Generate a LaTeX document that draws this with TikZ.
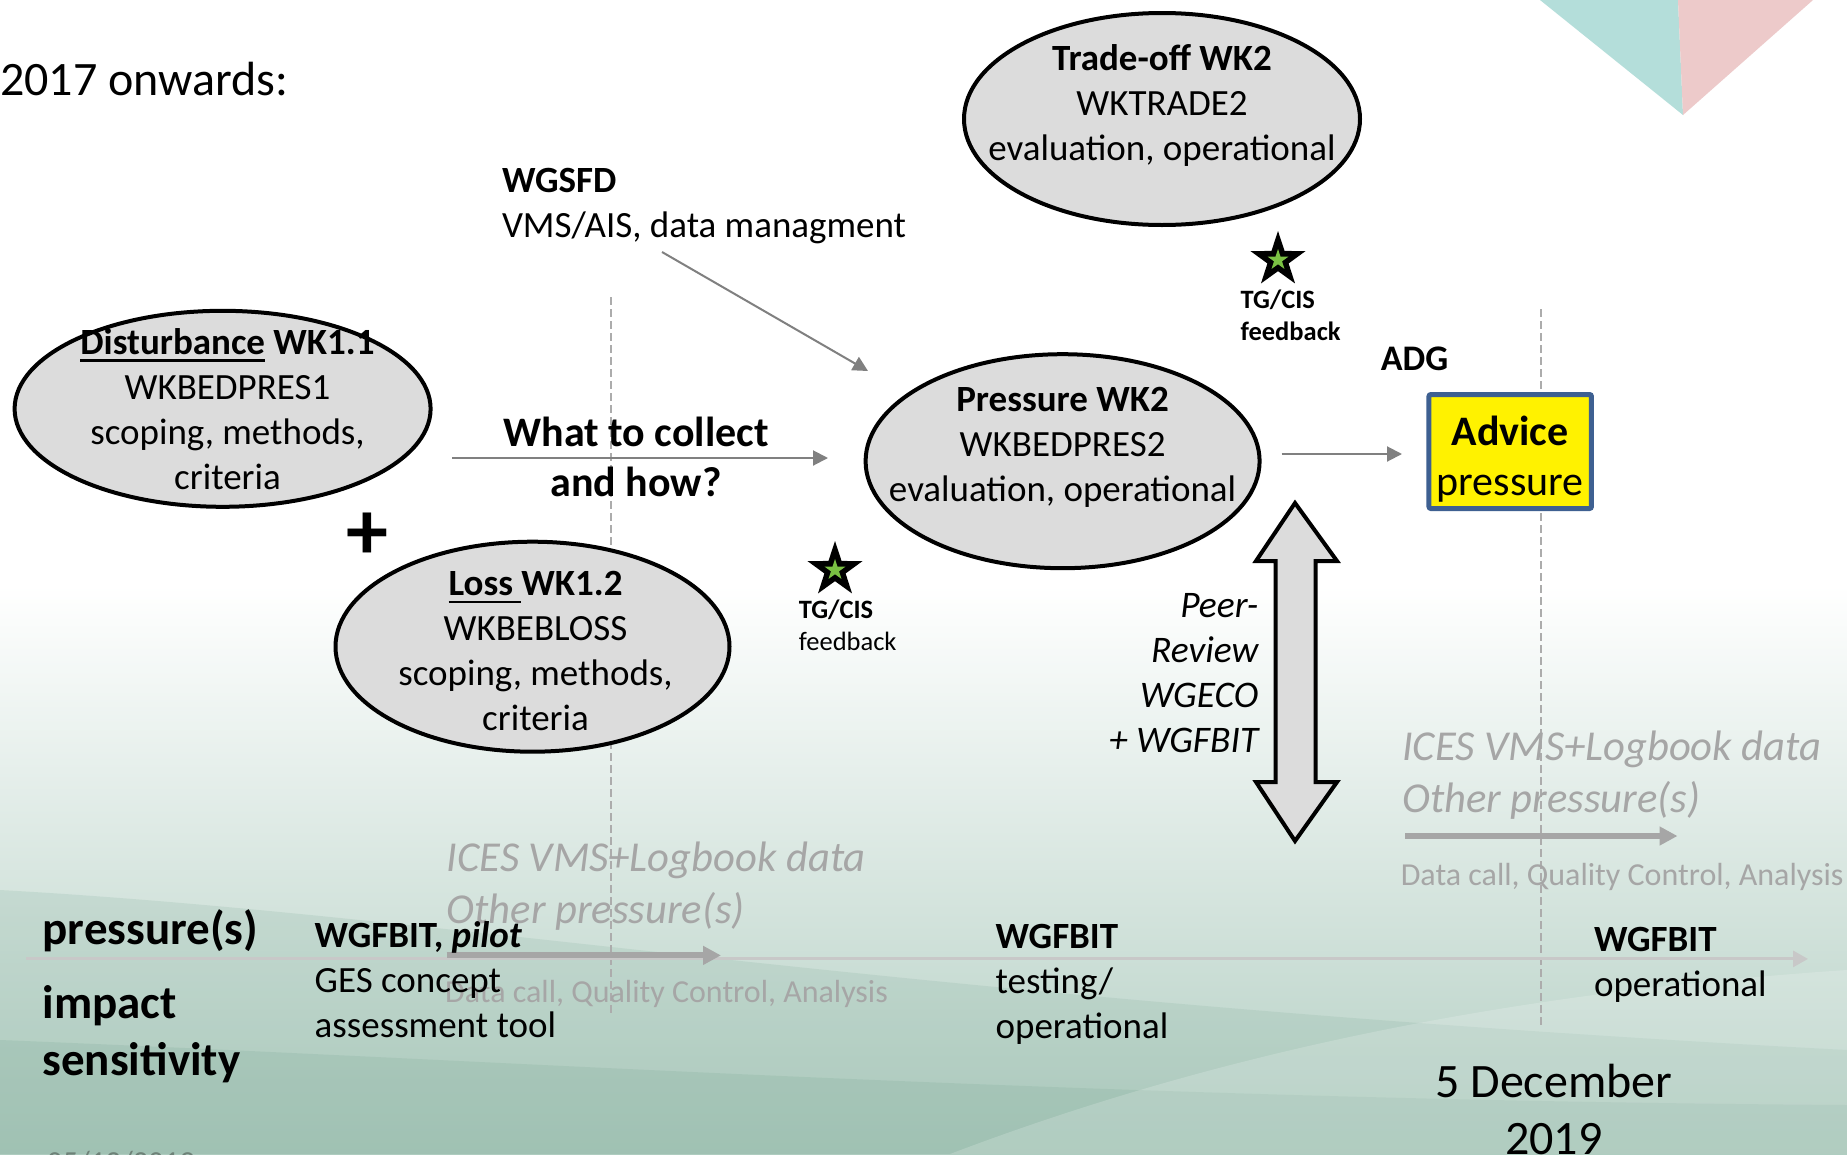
\documentclass[tikz,border=0pt]{standalone}
\usepackage{fontspec}
\setmainfont{Carlito}
\usetikzlibrary{shapes.geometric,arrows.meta}

\definecolor{blobfill}{RGB}{220,220,220}
\definecolor{arrgray}{RGB}{128,128,128}
\definecolor{lineline}{RGB}{200,200,200}
\definecolor{datagray}{RGB}{166,166,166}
\definecolor{dashgray}{RGB}{172,172,172}
\definecolor{advedge}{RGB}{62,96,145}
\definecolor{tealtri}{RGB}{180,222,218}
\definecolor{rosetri}{RGB}{237,202,202}
\definecolor{starg}{RGB}{122,193,67}
\definecolor{mintlow}{RGB}{178,206,194}
\definecolor{mintdark}{RGB}{140,180,163}
\definecolor{datefg}{RGB}{110,130,120}

\newcommand\fsz[2]{\fontsize{#1}{#2}\selectfont}
\newcommand\ulbox[1]{\leavevmode\setbox0=\hbox{#1}\rlap{\rule[-0.2em]{\wd0}{0.07em}}\box0{}}

\tikzset{
  blob/.style={ellipse, draw=black, line width=4pt, fill=blobfill, inner sep=0pt},
  blobtext/.style={align=center, inner sep=0pt, font=\fsz{37}{45}},
  plain/.style={inner sep=0pt, font=\fsz{37}{45}},
  thinarr/.style={draw=arrgray, line width=2pt, -{Triangle[length=15pt,width=15pt]}},
  dataarr/.style={draw=datagray, line width=6pt, -{Triangle[length=18pt,width=18pt]}},
  faint/.style={inner sep=0pt, text=datagray},
  divider/.style={draw=dashgray, line width=2pt, dash pattern=on 8pt off 4pt},
  bigstar/.style={star, star points=5, star point ratio=2.6, fill=black, inner sep=0pt, minimum size=58pt},
  smallstar/.style={star, star points=5, star point ratio=2.6, fill=starg, inner sep=0pt, minimum size=22pt},
}

\begin{document}
\begin{tikzpicture}[x=1pt,y=-1pt]
% ---- page and background ----
\useasboundingbox (0,0) rectangle (1847,1154);
\fill[white] (0,0) rectangle (1847,1154);
\shade[top color=white, bottom color=mintlow] (0,585) rectangle (1847,1154);
\fill[mintdark, opacity=0.22] (0,890) .. controls (450,915) and (900,1000) .. (1847,1050)
  -- (1847,1154) -- (0,1154) -- cycle;
\fill[mintdark, opacity=0.3] (0,1040) .. controls (500,1060) and (1100,1100) .. (1847,1105)
  -- (1847,1154) -- (0,1154) -- cycle;
\fill[white, opacity=0.18] (950,1154) .. controls (1250,1040) and (1550,990) .. (1847,970)
  -- (1847,1154) -- cycle;

% ---- corner triangles ----
\fill[tealtri] (1540,0) -- (1678,0) -- (1683,115) -- cycle;
\fill[rosetri] (1678,0) -- (1813,0) -- (1683,115) -- cycle;

% ---- dashed dividers ----
\draw[divider] (611.4,297) -- (611.4,1015);
\draw[divider] (1540.8,309) -- (1540.8,1028);

% ---- timeline ----
\coordinate (tlA) at (26,958.9);
\coordinate (tlB) at (1808,958.9);
\draw[draw=lineline, line width=3pt, -{Triangle[length=15pt,width=16pt]}] (tlA) -- (tlB);

% ---- title ----
\node[anchor=west, inner sep=0pt, font=\fsz{48}{58}] (title) at (0,79) {2017 onwards:};

% ---- workshops ----
\node[blob, minimum width=416pt, minimum height=196pt] (dist) at (222.6,408.8) {};
\node[blobtext] (distT) at (227.5,408.8)
  {{\bfseries\ulbox{Disturbance} WK1.1}\\WKBEDPRES1\\scoping, methods,\\criteria};

\node[blob, minimum width=394pt, minimum height=210pt] (loss) at (532.5,646.7) {};
\node[blobtext] (lossT) at (535.5,651.4)
  {{\bfseries\ulbox{Loss\ }WK1.2}\\WKBEBLOSS\\scoping, methods,\\criteria};

\node[blob, minimum width=394pt, minimum height=214pt] (press) at (1062.6,461.2) {};
\node[blobtext] (pressT) at (1062.6,447)
  {\textbf{Pressure WK2}\\WKBEDPRES2\\evaluation, operational};

\node[blob, minimum width=396pt, minimum height=212pt] (trade) at (1162,119) {};
\node[blobtext] (tradeT) at (1162,105)
  {\textbf{Trade-off WK2}\\WKTRADE2\\evaluation, operational};

\node[font=\bfseries\fsz{84}{84}, inner sep=0pt] (plus) at (367.5,536) {+};

% ---- WGSFD input ----
\node[plain, anchor=west, align=left] (wgsfd) at (501.8,206)
  {\textbf{WGSFD}\\VMS/AIS, data managment};
\coordinate (wgA) at (662,252);
\coordinate (wgB) at (868,371);
\draw[thinarr] (wgA) -- (wgB);

% ---- what to collect ----
\node[align=center, inner sep=0pt, font=\bfseries\fsz{42}{49.5}] (collect) at (636,457)
  {What to collect\\and how?};
\coordinate (colA) at (452,458);
\coordinate (colB) at (828,458);
\draw[thinarr] (colA) -- (colB);

% ---- feedback stars ----
\node[bigstar] (starR) at (1278,260) {};
\node[smallstar] (starRin) at (starR.center) {};
\node[anchor=west, align=left, inner sep=0pt, font=\bfseries\fsz{26.5}{32}] (fbR) at (1240.4,315)
  {TG/CIS\\feedback};

\node[bigstar] (starL) at (835,570) {};
\node[smallstar] (starLin) at (starL.center) {};
\node[anchor=west, align=left, inner sep=0pt, font=\fsz{26.5}{32}] (fbL) at (798.7,625)
  {\textbf{TG/CIS}\\feedback};

% ---- advice ----
\node[anchor=west, inner sep=0pt, font=\bfseries\fsz{36}{44}] (adg) at (1380.6,359) {ADG};
\node[draw=advedge, line width=5pt, fill=yellow, minimum width=162.5pt, minimum height=114pt,
      rounded corners=2pt, inner sep=0pt] (advice) at (1510.2,451.5) {};
\node[align=center, inner sep=0pt, font=\fsz{42}{50}] (adviceT) at (1510.2,459)
  {\textbf{Advice}\\pressure};
\coordinate (advA) at (1281.7,454);
\coordinate (advB) at (1402,454);
\draw[thinarr] (advA) -- (advB);

% ---- peer review double arrow ----
\coordinate (prTop) at (1295,503);
\coordinate (prBot) at (1295,841);
\draw[fill=blobfill, line width=4pt, line join=miter]
  (prTop) -- (1337,561) -- (1315.5,561) -- (1315.5,782) -- (1337,782) -- (prBot)
  -- (1256,782) -- (1275.7,782) -- (1275.7,561) -- (1256,561) -- cycle;
\node[anchor=east, align=right, inner sep=0pt, font=\itshape\fsz{37.5}{45}] (peer) at (1258.5,673)
  {Peer-\\Review\\WGECO\hspace*{0.22em}\\+ WGFBIT};

% ---- data flows ----
\node[faint, anchor=west, align=left, font=\itshape\fsz{42.6}{52}] (iceL) at (446.5,886)
  {ICES VMS+Logbook data\\Other pressure(s)};
\coordinate (dA) at (446.5,955.4);
\coordinate (dB) at (721,955.4);
\draw[dataarr] (dA) -- (dB);
\node[faint, anchor=west, font=\fsz{32}{40}] (dcL) at (445,994)
  {Data call, Quality Control, Analysis};

\node[faint, anchor=west, align=left, font=\itshape\fsz{42.6}{52}] (iceR) at (1402,775)
  {ICES VMS+Logbook data\\Other pressure(s)};
\coordinate (eA) at (1405,836);
\coordinate (eB) at (1677.5,836);
\draw[dataarr] (eA) -- (eB);
\node[faint, anchor=west, font=\fsz{32}{40}] (dcR) at (1400.6,876.5)
  {Data call, Quality Control, Analysis};

% ---- timeline labels ----
\node[anchor=west, inner sep=0pt, font=\bfseries\fsz{47}{57.5}] (lblP) at (42.4,930.6) {pressure(s)};
\node[anchor=west, align=left, inner sep=0pt, font=\bfseries\fsz{47}{57.5}] (lblI) at (42.4,1034)
  {impact\\sensitivity};

\node[plain, anchor=west, align=left] (fbit1) at (314.5,980)
  {\textbf{WGFBIT, \textit{pilot}}\\GES concept\\assessment tool};
\node[plain, anchor=west, align=left] (fbit2) at (995.4,984)
  {\textbf{WGFBIT}\\testing/\\operational};
\node[plain, anchor=west, align=left] (fbit3) at (1593.8,965)
  {\textbf{WGFBIT}\\operational};

\node[align=center, inner sep=0pt, font=\fsz{48}{57}] (date) at (1553.8,1109.7)
  {5 December\\2019};

\begin{scope}
  \clip (0,0) rectangle (1847,1154);
  \node[anchor=base west, inner sep=0pt, text=datefg, font=\fsz{30.6}{36}] (datesmall) at (47,1172) {05/12/2019};
\end{scope}
\end{tikzpicture}
\end{document}
